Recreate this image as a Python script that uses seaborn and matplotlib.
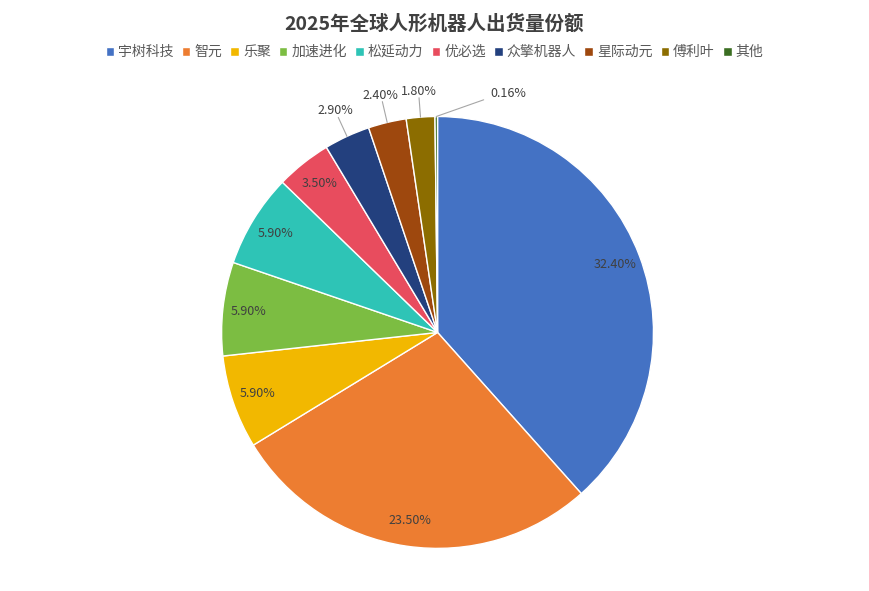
import numpy as np
import matplotlib
matplotlib.use("Agg")
import matplotlib.pyplot as plt
import seaborn as sns

companies = ["宇树科技", "智元", "乐聚", "加速进化", "松延动力", "优必选", "众擎机器人", "星际动元", "傅利叶", "其他"]
shares = [32.40, 23.50, 5.90, 5.90, 5.90, 3.50, 2.90, 2.40, 1.80, 0.16]
labels = ["32.40%", "23.50%", "5.90%", "5.90%", "5.90%", "3.50%", "2.90%", "2.40%", "1.80%", "0.16%"]
colors = ["#4472C4", "#ED7D31", "#F2B800", "#7CBD42", "#2EC4B6", "#E84C5E",
          "#23407E", "#9E480E", "#8C6D00", "#3B6E22"]

sns.set_theme(style="white")
plt.rcParams['font.family'] = ['Noto Sans CJK SC', 'DejaVu Sans']

fig = plt.figure(figsize=(8.69, 5.91), dpi=100)
ax = fig.add_axes([0.255, 0.072, 0.497, 0.731])
wedges, _ = ax.pie(shares, colors=colors, startangle=90, counterclock=False,
                   wedgeprops=dict(edgecolor="white", linewidth=1))
ax.set_xlim(-1, 1); ax.set_ylim(-1, 1); ax.set_aspect("equal")

outside = {6: (1.13, 0), 7: (1.13, 0), 8: (1.12, 0), 9: (1.12, 9)}
for i, w in enumerate(wedges):
    ang = np.deg2rad((w.theta1 + w.theta2) / 2)
    if i in outside:
        r, dang = outside[i]
        a2 = ang - np.deg2rad(dang)
        x, y = r * np.cos(a2), r * np.sin(a2)
        ex, ey = np.cos(ang), np.sin(ang)
        ax.plot([ex, x * 0.97 + (0.05 if i == 9 else 0)], [ey, y - 0.03], color="#A6A6A6", lw=0.8, clip_on=False)
        ax.text(x + (0.16 if i == 9 else 0), y, labels[i], ha="center", va="center",
                fontsize=9, color="#404040")
    else:
        r = 0.88
        ax.text(r * np.cos(ang), r * np.sin(ang), labels[i], ha="center", va="center",
                fontsize=9, color="#404040")

fig.suptitle("2025年全球人形机器人出货量份额", y=0.975, fontsize=14, fontweight="bold", color="#404040")
fig.legend(wedges, companies, loc="upper center", bbox_to_anchor=(0.5, 0.945), ncol=10,
           frameon=False, fontsize=10, handlelength=0.6, handleheight=0.6,
           handletextpad=0.3, columnspacing=0.6, labelcolor="#595959")
fig.savefig("out.png", dpi=100)
